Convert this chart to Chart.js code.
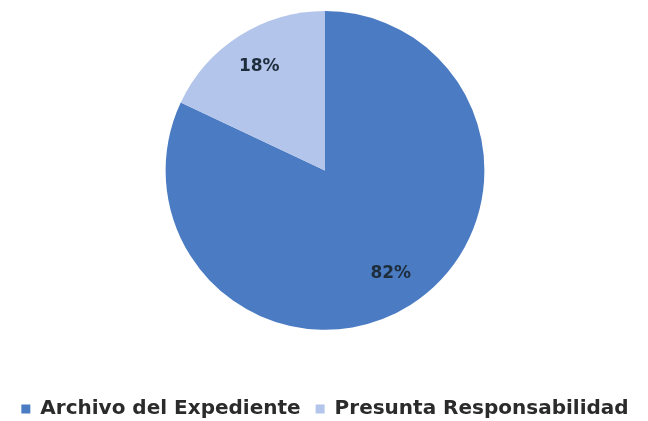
<!DOCTYPE html>
<html>
<head>
<meta charset="utf-8">
<script src="https://cdn.jsdelivr.net/npm/chart.js@4"></script>
<style>
  html, body { margin: 0; padding: 0; background: #fff; }
  #wrap { width: 648px; height: 421px; }
</style>
</head>
<body>
<div id="wrap"><canvas id="piechart"></canvas></div>
<script>
var labels = ["Archivo del Expediente", "Presunta Responsabilidad"];
var values = [82, 18];
var colors = ["#4b7cc3", "#b3c5ea"];

// draws the percentage inside each slice
var sliceLabels = {
  id: 'sliceLabels',
  afterDatasetsDraw: function(chart) {
    var ctx = chart.ctx;
    var meta = chart.getDatasetMeta(0);
    ctx.save();
    ctx.font = 'bold 17px "DejaVu Sans"';
    ctx.fillStyle = '#1e2d3c';
    ctx.textAlign = 'center';
    ctx.textBaseline = 'middle';
    meta.data.forEach(function(arc, i) {
      var mid = (arc.startAngle + arc.endAngle) / 2;
      var r = arc.outerRadius * 0.77;
      ctx.fillText(values[i] + '%', arc.x + Math.cos(mid) * r, arc.y + Math.sin(mid) * r);
    });
    ctx.restore();
  }
};

var config = {
  type: 'pie',
  data: {
    labels: labels,
    datasets: [{
      data: values,
      backgroundColor: colors,
      borderWidth: 0
    }]
  },
  options: {
    responsive: true,
    maintainAspectRatio: false,
    animation: false,
    layout: {padding: {top: 11, left: 2, bottom: -8}},
    plugins: {
      tooltip: {enabled: false},
      legend: {
        position: 'bottom',
        title: {display: true, text: '', font: {size: 1}, padding: {top: 53, bottom: 0}},
        labels: {
          boxWidth: 9,
          boxHeight: 9,
          padding: 15,
          color: '#2b2b2b',
          font: {family: 'DejaVu Sans', size: 20, weight: 'bold'}
        }
      }
    }
  },
  plugins: [sliceLabels]
};

var chart = new Chart(document.getElementById('piechart'), config);
</script>
</body>
</html>
